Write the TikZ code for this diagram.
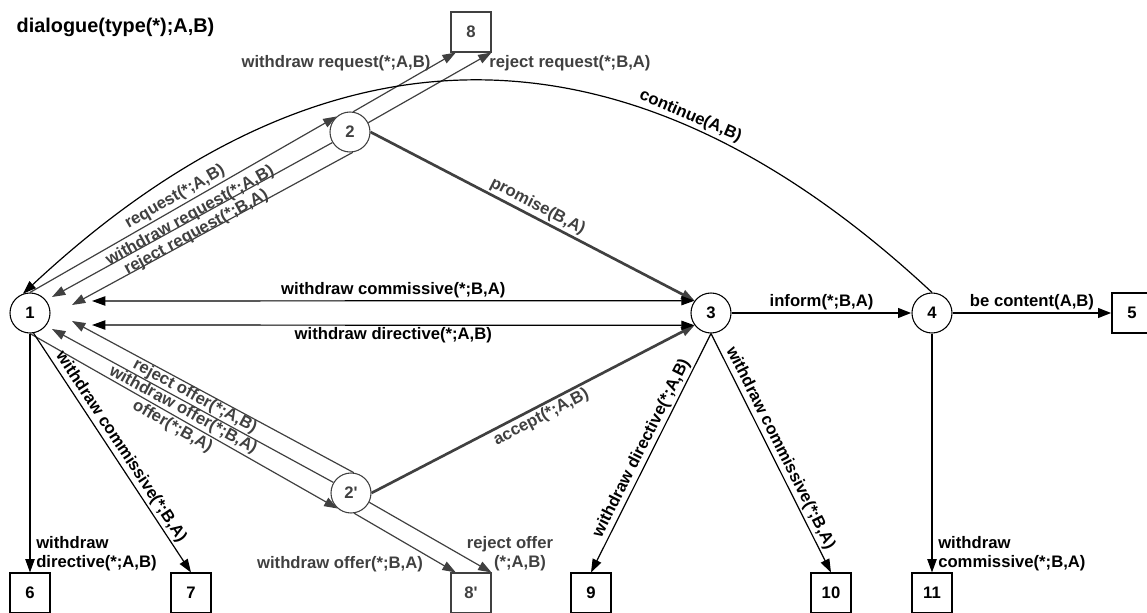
\documentclass[tikz,border=0pt]{standalone}
\usepackage{fontspec}
\setmainfont{Liberation Sans}
\usetikzlibrary{positioning,arrows.meta,calc}
\definecolor{dgray}{HTML}{404040}
\begin{document}
\begin{tikzpicture}[
      x=0.75pt, y=0.75pt,
      every node/.style={font=\fontsize{12.5}{14.5}\selectfont\bfseries, align=center},
      circ/.style={draw, circle, fill=white, minimum size=30pt, inner sep=0pt, line width=0.8pt},
      gcirc/.style={circ, draw=dgray, text=dgray},
      term/.style={draw, fill=white, minimum size=30pt, inner sep=0pt, line width=0.8pt},
      gterm/.style={term, draw=dgray, text=dgray},
      lbl/.style={inner sep=1.5pt},
      glbl/.style={lbl, text=dgray},
      onbase/.style={anchor=base, inner sep=0pt},
      hang/.style={anchor=north, inner sep=0pt},
      arr/.style={-{Triangle[length=10pt,width=7pt]}, line width=0.9pt},
      garr/.style={arr, dgray},
      darr/.style={{Triangle[length=10pt,width=7pt]}-{Triangle[length=10pt,width=7pt]}, line width=0.9pt},
      heavy/.style={arr, line width=2pt},
      gheavy/.style={heavy, dgray},
  ]
    \useasboundingbox (0,0) rectangle (1147,-613);

    % title
    \node[font=\fontsize{14.9}{17}\selectfont\bfseries, anchor=west] (title) at (12,-27) {dialogue(type(*);A,B)};

    % states
    \node[circ]  (s1)  at (30,-313)  {1};
    \node[gcirc] (s2)  at (350,-132) {2};
    \node[gcirc] (s2p) at (351,-493) {2\textquotesingle};
    \node[circ]  (s3)  at (711,-313) {3};
    \node[circ]  (s4)  at (932,-313) {4};

    % terminal boxes
    \node[term]  (e5)  at (1132,-313) {5};
    \node[term]  (e6)  at (30,-593)   {6};
    \node[term]  (e7)  at (191,-593)  {7};
    \node[gterm] (e8)  at (471,-32)   {8};
    \node[gterm] (e8p) at (471,-593)  {8\textquotesingle};
    \node[term]  (e9)  at (591,-593)  {9};
    \node[term]  (e10) at (831,-593)  {10};
    \node[term]  (e11) at (932,-593)  {11};

    % free ends near 1
    \coordinate (wr1) at (52,-297);
    \coordinate (rr1) at (72,-305);
    \coordinate (wc1) at (92,-301);
    \coordinate (wd1) at (92,-325);
    \coordinate (ro1) at (72,-321);
    \coordinate (wo1) at (52,-329);

    % request branch
    \draw[garr] (s1.90) -- (s2.131)
      node[glbl, pos=0.49, sloped, above] {request(*;A,B)};
    \draw[garr] (s2.211) -- (wr1)
      node[glbl, onbase, pos=0.5, sloped] {withdraw request(*;A,B)};
    \draw[garr] (s2.278) -- (rr1)
      node[glbl, onbase, pos=0.55, sloped] {reject request(*;B,A)};
    \draw[garr] (s2.81) -- ([xshift=4pt]e8.south west);
    \draw[garr] (s2.27) -- (e8.south east);
    \node[glbl] (lwr) at (336,-63) {withdraw request(*;A,B)};
    \node[glbl] (lrr) at (570,-63) {reject request(*;B,A)};

    % offer branch
    \draw[garr] (s1.270) -- (s2p.229)
      node[glbl, pos=0.48, sloped, below] {offer(*;B,A)};
    \draw[garr] (s2p.149) -- (wo1)
      node[glbl, hang, pos=0.52, sloped] {withdraw offer(*;B,A)};
    \draw[garr] (s2p.82) -- (ro1)
      node[glbl, hang, pos=0.55, sloped] {reject offer(*;A,B)};
    \draw[garr] (s2p.279) -- ([xshift=4pt]e8p.north west);
    \draw[garr] (s2p.333) -- (e8p.north east);
    \node[glbl] (lwo) at (340,-564) {withdraw offer(*;B,A)};
    \node[glbl] (lro) at (510,-554) {reject offer\\\hspace*{15pt}(*;A,B)};

    % promise / accept
    \draw[gheavy] (s2.east) -- (s3.143)
      node[glbl, pos=0.5, sloped, above] {promise(B,A)};
    \draw[gheavy] (s2p.east) -- (s3.217)
      node[glbl, pos=0.51, sloped, below] {accept(*;A,B)};

    % withdrawals between 1 and 3
    \draw[darr] (wc1) -- (s3.143)
      node[lbl, midway, above] {withdraw commissive(*;B,A)};
    \draw[darr] (wd1) -- (s3.217)
      node[lbl, midway, below] {withdraw directive(*;A,B)};

    % main line
    \draw[heavy] (s3) -- (s4) node[lbl, midway, above] {inform(*;B,A)};
    \draw[heavy] (s4) -- (e5) node[lbl, midway, above] {be content(A,B)};
    \draw[arr] (s4.north) to[out=137, in=43, looseness=1.17]
      node[lbl, pos=0.27, sloped, above] {continue(A,B)} (s1.110);

    % exits
    \draw[arr] (s1) -- (e6);
    \node[lbl, anchor=west, align=left] (lwd6) at (34,-554) {withdraw\\directive(*;A,B)};
    \draw[arr] (s1.280) -- (e7.north)
      node[lbl, midway, sloped, above] {withdraw commissive(*;B,A)};
    \draw[arr] (s3.south) -- (e9.north)
      node[lbl, midway, sloped, above] {withdraw directive(*;A,B)};
    \draw[arr] (s3.south) -- (e10.north)
      node[lbl, midway, sloped, above] {withdraw commissive(*;B,A)};
    \draw[arr] (s4) -- (e11);
    \node[lbl, anchor=west, align=left] (lwc11) at (936,-554) {withdraw\\commissive(*;B,A)};
\end{tikzpicture}
\end{document}
